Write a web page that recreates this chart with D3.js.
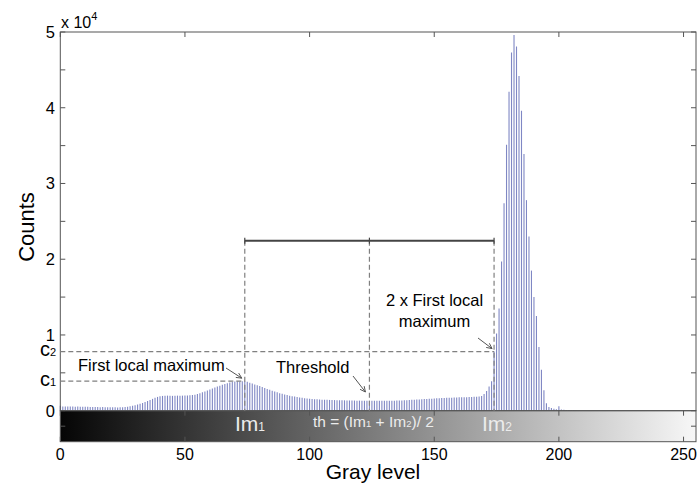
<!DOCTYPE html>
<html>
<head>
<meta charset="utf-8">
<script src="https://cdn.jsdelivr.net/npm/d3@7"></script>
<style>
  html, body { margin: 0; padding: 0; background: #fff; }
  svg { display: block; font-family: "Liberation Sans", Arial, sans-serif; }
</style>
</head>
<body>
<svg id="chart" width="699" height="484"></svg>
<script>
// histogram counts for gray levels 0..209 (levels above are empty)
const counts = [
    650, 550, 560, 540, 560, 550, 530, 540, 520, 530,
    510, 520, 500, 490, 500, 480, 470, 480, 460, 450,
    460, 440, 450, 430, 440, 450, 480, 520, 580, 650,
    720, 820, 920, 1030, 1150, 1280, 1420, 1560, 1700, 1820,
    1900, 1950, 1980, 1990, 1970, 1960, 1980, 1990, 1970, 1990,
    2000, 2010, 2030, 2060, 2120, 2200, 2300, 2420, 2550, 2680,
    2800, 2930, 3050, 3180, 3300, 3420, 3530, 3630, 3720, 3800,
    3850, 3880, 3860, 3880, 3900, 3820, 3700, 3580, 3460, 3350,
    3250, 3130, 3000, 2880, 2760, 2640, 2530, 2420, 2320, 2230,
    2140, 2060, 1990, 1920, 1860, 1800, 1750, 1700, 1660, 1620,
    1580, 1550, 1520, 1500, 1480, 1460, 1450, 1440, 1420, 1410,
    1400, 1390, 1380, 1380, 1370, 1360, 1350, 1350, 1340, 1330,
    1330, 1320, 1320, 1310, 1300, 1300, 1310, 1300, 1310, 1300,
    1310, 1320, 1310, 1320, 1330, 1340, 1350, 1360, 1380, 1390,
    1410, 1430, 1450, 1470, 1490, 1510, 1530, 1550, 1570, 1590,
    1610, 1630, 1650, 1670, 1680, 1700, 1710, 1720, 1740, 1750,
    1760, 1770, 1780, 1790, 1800, 1810, 1830, 1850, 1880, 1950,
    2200, 2600, 3200, 3900, 7800, 10200, 13500, 19700, 27400, 35100,
    42100, 47300, 49600, 48100, 44200, 39600, 33900, 27800, 23000, 18500,
    15000, 12500, 8400, 5400, 2700, 1000, 500, 350, 250, 200,
    600, 150, 120, 100, 80, 60, 50, 40, 0, 0
];

const xTicks = [0, 50, 100, 150, 200, 250];
const yTicks = [0, 5000, 10000, 15000, 20000, 25000, 30000, 35000, 40000, 45000, 50000];
const yTickLabels = ["0", "1", "2", "3", "4", "5"];

// marked gray levels and counts
const im1 = 74;
const im2 = 174;
const th = (im1 + im2) / 2;
const c1 = 3900;
const c2 = 2 * c1;
const bracketCount = 22450;

const svg = d3.select("#chart");

const x = d3.scaleLinear().domain([0, 255]).range([60.3, 696]);
const y = d3.scaleLinear().domain([0, 50000]).range([410.7, 32]);
const barBottom = 441.7;

const axisColor = "#555";
const dashColor = "#808080";

// grayscale strip under the histogram
const defs = svg.append("defs");
const grad = defs.append("linearGradient")
    .attr("id", "grayStrip")
    .attr("x1", "0%").attr("x2", "100%")
    .attr("y1", "0%").attr("y2", "0%");
grad.append("stop").attr("offset", "0%").attr("stop-color", "#050505");
grad.append("stop").attr("offset", "100%").attr("stop-color", "#f7f7f7");

svg.append("rect")
    .attr("x", x(0))
    .attr("y", y(0))
    .attr("width", x(255) - x(0))
    .attr("height", barBottom - y(0))
    .attr("fill", "url(#grayStrip)");

// histogram bars
svg.append("g")
    .selectAll("line")
    .data(counts)
    .enter()
    .append("line")
    .attr("x1", (d, i) => x(i))
    .attr("x2", (d, i) => x(i))
    .attr("y1", y(0))
    .attr("y2", d => y(d))
    .attr("stroke", "#7f87c4")
    .attr("stroke-width", 1.1);

// frames
svg.append("rect")
    .attr("x", x(0)).attr("y", y(50000))
    .attr("width", x(255) - x(0)).attr("height", y(0) - y(50000))
    .attr("fill", "none").attr("stroke", axisColor).attr("stroke-width", 1);
svg.append("rect")
    .attr("x", x(0)).attr("y", y(0))
    .attr("width", x(255) - x(0)).attr("height", barBottom - y(0))
    .attr("fill", "none").attr("stroke", axisColor).attr("stroke-width", 1);

// ticks pointing inward
const tickLen = 5;
const ticks = svg.append("g").attr("stroke", axisColor).attr("stroke-width", 1);
yTicks.forEach(v => {
    ticks.append("line").attr("x1", x(0)).attr("x2", x(0) + tickLen).attr("y1", y(v)).attr("y2", y(v));
    ticks.append("line").attr("x1", x(255)).attr("x2", x(255) - tickLen).attr("y1", y(v)).attr("y2", y(v));
});
xTicks.forEach(v => {
    ticks.append("line").attr("x1", x(v)).attr("x2", x(v)).attr("y1", y(50000)).attr("y2", y(50000) + tickLen);
    ticks.append("line").attr("x1", x(v)).attr("x2", x(v)).attr("y1", y(0)).attr("y2", y(0) + tickLen);
    ticks.append("line").attr("x1", x(v)).attr("x2", x(v)).attr("y1", barBottom).attr("y2", barBottom - tickLen);
});
const stripMid = (y(0) + barBottom) / 2;
ticks.append("line").attr("x1", x(0)).attr("x2", x(0) + tickLen).attr("y1", stripMid).attr("y2", stripMid);
ticks.append("line").attr("x1", x(255)).attr("x2", x(255) - tickLen).attr("y1", stripMid).attr("y2", stripMid);

// tick labels
svg.append("g")
    .selectAll("text")
    .data(yTickLabels)
    .enter()
    .append("text")
    .attr("x", 55)
    .attr("y", (d, i) => y(i * 10000))
    .attr("dy", "0.36em")
    .attr("text-anchor", "end")
    .style("font-size", "16.5px")
    .text(d => d);

svg.append("g")
    .selectAll("text")
    .data(xTicks)
    .enter()
    .append("text")
    .attr("x", d => x(d))
    .attr("y", 460)
    .attr("text-anchor", "middle")
    .style("font-size", "16px")
    .text(d => d);

const expo = svg.append("text").attr("x", 61).attr("y", 28).style("font-size", "16px");
expo.append("tspan").text("x 10");
expo.append("tspan").attr("dy", -8).style("font-size", "11px").text("4");

// c1 / c2 labels
[[c2, "2"], [c1, "1"]].forEach(([v, s]) => {
    const t = svg.append("text").attr("x", 40).attr("y", y(v) + 4.5).style("font-size", "20px");
    t.append("tspan").text("c");
    t.append("tspan").style("font-size", "11px").text(s);
});

// axis titles
svg.append("text")
    .attr("transform", "translate(34, 227) rotate(-90)")
    .attr("text-anchor", "middle")
    .style("font-size", "22px")
    .text("Counts");
svg.append("text")
    .attr("x", 373)
    .attr("y", 479)
    .attr("text-anchor", "middle")
    .style("font-size", "21px")
    .text("Gray level");

// dashed guides
const guides = svg.append("g")
    .attr("stroke", dashColor)
    .attr("stroke-width", 1.2)
    .attr("stroke-dasharray", "5,3")
    .attr("fill", "none");
[im1, th, im2].forEach(g => {
    guides.append("line").attr("x1", x(g)).attr("x2", x(g)).attr("y1", y(bracketCount)).attr("y2", y(0));
});
guides.append("line").attr("x1", x(0)).attr("x2", x(im1)).attr("y1", y(c1)).attr("y2", y(c1));
guides.append("line").attr("x1", x(0)).attr("x2", x(im2)).attr("y1", y(c2)).attr("y2", y(c2));

// bracket between the two maxima
const bracket = svg.append("g").attr("stroke", "#444").attr("stroke-width", 2);
bracket.append("line").attr("x1", x(im1)).attr("x2", x(im2)).attr("y1", y(bracketCount)).attr("y2", y(bracketCount));
[im1, th, im2].forEach(g => {
    bracket.append("line").attr("stroke-width", 1.2)
        .attr("x1", x(g)).attr("x2", x(g))
        .attr("y1", y(bracketCount) - 3).attr("y2", y(bracketCount) + 3);
});

// annotation text and arrows
function arrow(x1, y1, x2, y2) {
    const a = Math.atan2(y2 - y1, x2 - x1);
    const len = 6, spread = 0.45;
    const g = svg.append("g").attr("stroke", "#555").attr("stroke-width", 1).attr("fill", "none");
    g.append("line").attr("x1", x1).attr("y1", y1).attr("x2", x2).attr("y2", y2);
    g.append("path").attr("d",
        `M${x2 - len * Math.cos(a - spread)},${y2 - len * Math.sin(a - spread)}` +
        `L${x2},${y2}` +
        `L${x2 - len * Math.cos(a + spread)},${y2 - len * Math.sin(a + spread)}`);
}

svg.append("text").attr("x", 78).attr("y", 371).style("font-size", "16.5px").text("First local maximum");
arrow(226, 368, x(im1) - 3, y(c1) - 3);

svg.append("text").attr("x", 276).attr("y", 372.5).style("font-size", "16.5px").text("Threshold");
arrow(353, 376, x(th) - 4, 392);

svg.append("text").attr("x", 434.5).attr("y", 306).attr("text-anchor", "middle").style("font-size", "16.5px").text("2 x First local");
svg.append("text").attr("x", 434.5).attr("y", 327).attr("text-anchor", "middle").style("font-size", "16.5px").text("maximum");
arrow(478, 338, x(im2) - 2, y(c2) - 3);

// labels inside the grayscale strip
function stripLabel(xPos, parts, size, subSize, baseline) {
    const t = svg.append("text").attr("x", xPos).attr("y", baseline)
        .attr("fill", "#ececec").style("font-size", size + "px");
    parts.forEach(p => {
        t.append("tspan").style("font-size", (p.sub ? subSize : size) + "px").text(p.t);
    });
}
stripLabel(235, [{ t: "Im" }, { t: "1", sub: true }], 21, 12, 431);
stripLabel(313, [
    { t: "th = (Im" }, { t: "1", sub: true }, { t: " + Im" }, { t: "2", sub: true }, { t: ")/ 2" }
], 15.5, 9.5, 427);
stripLabel(482, [{ t: "Im" }, { t: "2", sub: true }], 21, 12, 431);
</script>
</body>
</html>
